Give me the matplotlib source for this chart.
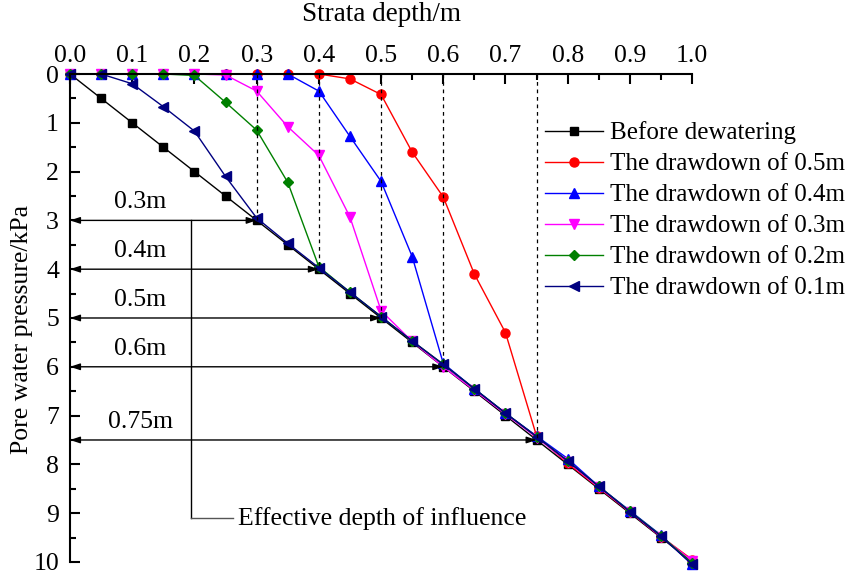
import matplotlib
matplotlib.use("Agg")
import matplotlib.pyplot as plt
from matplotlib.ticker import MultipleLocator

plt.rcParams['font.family'] = ['Liberation Serif', 'DejaVu Serif']
FS = 18.5

# strata depth (m), sampled every 0.05 m
depth = [0.0, 0.05, 0.1, 0.15, 0.2, 0.25, 0.3, 0.35, 0.4, 0.45, 0.5,
         0.55, 0.6, 0.65, 0.7, 0.75, 0.8, 0.85, 0.9, 0.95, 1.0]

# pore water pressure (kPa)
before = [0.0, 0.5, 1.0, 1.5, 2.0, 2.5, 3.0, 3.5, 4.0, 4.5, 5.0,
          5.5, 6.0, 6.5, 7.0, 7.5, 8.0, 8.5, 9.0, 9.5, 10.0]
dd_05 = [0, 0, 0, 0, 0, 0, 0, 0, 0, 0.1, 0.42,
         1.6, 2.52, 4.1, 5.3, 7.42, 7.98, 8.48, 8.98, 9.48, 9.95]
dd_04 = [0, 0, 0, 0, 0, 0, 0, 0, 0.35, 1.28, 2.2,
         3.74, 5.93, 6.45, 6.95, 7.42, 7.88, 8.45, 8.95, 9.45, 10.05]
dd_03 = [0, 0, 0, 0, 0, 0.02, 0.35, 1.08, 1.67, 2.93, 4.85,
         5.48, 6.0, 6.48, 6.97, 7.45, 7.95, 8.47, 8.97, 9.48, 9.97]
dd_02 = [0, 0, 0, 0, 0.03, 0.58, 1.15, 2.22, 3.95, 4.47, 4.97,
         5.47, 5.95, 6.45, 6.95, 7.43, 7.93, 8.45, 8.96, 9.46, 10.02]
dd_01 = [0, 0, 0.2, 0.67, 1.17, 2.1, 2.95, 3.47, 3.97, 4.47, 4.97,
         5.47, 5.95, 6.45, 6.95, 7.43, 7.93, 8.45, 8.97, 9.47, 10.05]

labels = ["Before dewatering", "The drawdown of 0.5m", "The drawdown of 0.4m",
          "The drawdown of 0.3m", "The drawdown of 0.2m", "The drawdown of 0.1m"]
series = [before, dd_05, dd_04, dd_03, dd_02, dd_01]
colors = ["black", "#ff0000", "#0000ff", "#ff00ff", "#008000", "#000080"]
markers = ["s", "o", "^", "v", "D", "<"]
msizes = [5.5, 6.5, 7, 7, 5.5, 7.5]

# influence depth of each drawdown and its label
infl_depth = [0.3, 0.4, 0.5, 0.6, 0.75]
infl_press = [3.0, 4.0, 5.0, 6.0, 7.5]
infl_text = ["0.3m", "0.4m", "0.5m", "0.6m", "0.75m"]

fig = plt.figure(figsize=(8.5, 5.71), dpi=100)
ax = fig.add_axes([0.0824, 0.0158, 0.7318, 0.8546])

for y, c, m, ms, lab in zip(series, colors, markers, msizes, labels):
    ax.plot(depth, y, color=c, marker=m, markersize=ms, lw=1.0, label=lab, clip_on=False)

# dashed guides and double arrows
for d, p, t in zip(infl_depth, infl_press, infl_text):
    ax.plot([d, d], [0, p], color="black", ls=(0, (3, 3)), lw=0.9)
    ax.annotate("", xy=(d, p), xytext=(0, p),
                arrowprops=dict(arrowstyle="<|-|>,head_length=0.42,head_width=0.14",
                                color="black", lw=1.0,
                                mutation_scale=14, shrinkA=0, shrinkB=0))
    ax.text(0.113, p - 0.37, t, ha="center", va="center", fontsize=FS)

ax.plot([0.195, 0.195], [3.0, 9.1], color="black", lw=1.0)
ax.plot([0.195, 0.262], [9.1, 9.1], color="#555555", lw=1.0)
ax.text(0.27, 9.1, "Effective depth of influence", ha="left", va="center", fontsize=FS)

ax.set_xlim(0, 1.0)
ax.set_ylim(10, 0)
ax.xaxis.tick_top()
ax.xaxis.set_label_position("top")
ax.xaxis.set_major_locator(MultipleLocator(0.1))
ax.xaxis.set_minor_locator(MultipleLocator(0.05))
ax.yaxis.set_major_locator(MultipleLocator(1))
ax.yaxis.set_minor_locator(MultipleLocator(0.5))
ax.xaxis.set_major_formatter(plt.FormatStrFormatter("%.1f"))
ax.tick_params(which="major", direction="in", length=7, width=1.5, labelsize=FS)
ax.tick_params(which="minor", direction="in", length=4, width=1.5)
ax.tick_params(axis="x", pad=5)
ax.tick_params(axis="y", pad=8)
for s in ["right", "bottom"]:
    ax.spines[s].set_visible(False)
for s in ["left", "top"]:
    ax.spines[s].set_linewidth(1.5)

ax.set_xlabel("Strata depth/m", fontsize=19.5)
ax.xaxis.set_label_coords(0.5, 1.121)
ax.xaxis.label.set_va("center")
ax.set_ylabel("Pore water pressure/kPa", fontsize=FS)
ax.yaxis.set_label_coords(-0.077, 0.477)
ax.yaxis.label.set_va("center")

ax.legend(loc="upper left", bbox_to_anchor=(0.764, 0.903), frameon=False, fontsize=18,
          handlelength=2.3, handletextpad=0.27, labelspacing=0.34,
          borderpad=0, borderaxespad=0)

fig.savefig("out.png", dpi=100)
